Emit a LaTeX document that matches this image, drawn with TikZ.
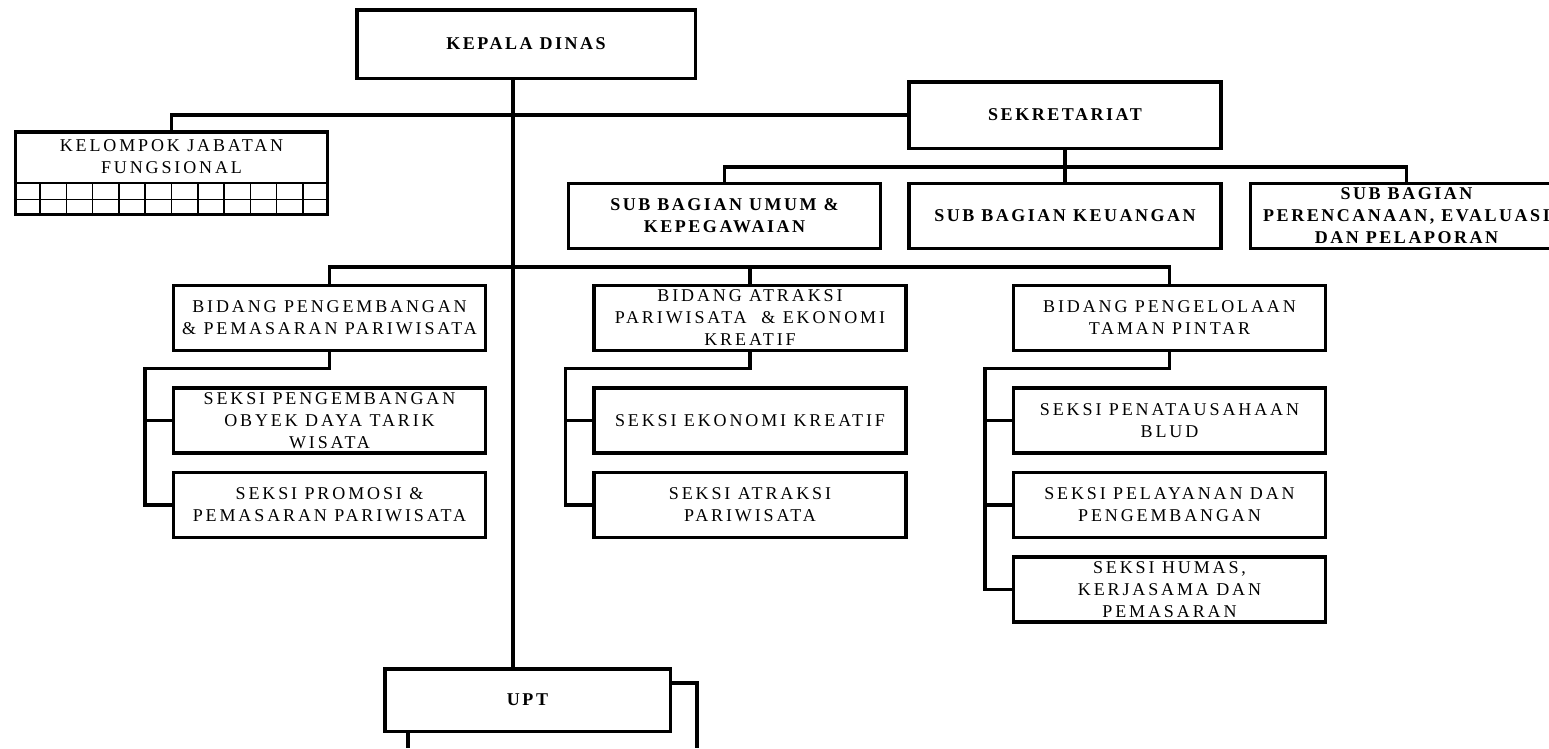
\documentclass[tikz,border=0pt]{standalone}
\usepackage{fontspec}
\setmainfont{Liberation Serif}[LetterSpace=16,BoldFeatures={LetterSpace=14}]
\usetikzlibrary{calc, positioning}

\begin{document}
\begin{tikzpicture}[x=1pt, y=-1pt, line width=3.5pt, font=\fontsize{18}{22}\selectfont,
    unit/.style={draw, minimum width=312, minimum height=65, inner sep=0pt, align=center},
    head/.style={unit, font=\fontsize{18}{22}\selectfont\bfseries},
    grid/.style={line width=1.5pt}]
    \useasboundingbox (0,0) rectangle (1549,748);
    \clip (0,0) rectangle (1549,748);

    % Pimpinan
    \node[head, minimum width=338.5, minimum height=68.5] (kadis) at (526,44) {KEPALA DINAS};
    \node[head, minimum height=66.5] (sekre) at (1065,115) {SEKRETARIAT};

    % Kelompok jabatan fungsional
    \node[unit, minimum height=82.5] (jf) at (171.5,173) {};
    \node[align=center] (jftxt) at (171.5,157) {KELOMPOK JABATAN\\FUNGSIONAL};
    \foreach \r in {16.5,33}
        \draw[grid] ([yshift=\r pt]jf.south west) -- ([yshift=\r pt]jf.south east);
    \foreach \i in {1,...,11}
        \draw[grid] ($(jf.south west)!\i/12!(jf.south east)$) -- ++(0,-33);

    % Sub bagian
    \node[head] (sbk) at (1065,216) {SUB BAGIAN KEUANGAN};
    \node[head, left=25pt of sbk] (sbu) {SUB BAGIAN UMUM \&\\KEPEGAWAIAN};
    \node[head, right=26pt of sbk] (sbp) {SUB BAGIAN\\PERENCANAAN, EVALUASI\\DAN PELAPORAN};

    % Bidang
    \node[unit] (bid1) at (329.5,318) {BIDANG PENGEMBANGAN\\\& PEMASARAN PARIWISATA};
    \node[unit, right=105pt of bid1] (bid2) {BIDANG ATRAKSI\\PARIWISATA \ \& EKONOMI\\KREATIF};
    \node[unit, right=104pt of bid2] (bid3) {BIDANG PENGELOLAAN\\TAMAN PINTAR};

    % Seksi
    \node[unit, below=34pt of bid1] (s1a) {SEKSI PENGEMBANGAN\\OBYEK DAYA TARIK\\WISATA};
    \node[unit, below=16pt of s1a] (s1b) {SEKSI PROMOSI \&\\PEMASARAN PARIWISATA};
    \node[unit, below=34pt of bid2] (s2a) {SEKSI EKONOMI KREATIF};
    \node[unit, below=16pt of s2a] (s2b) {SEKSI ATRAKSI\\PARIWISATA};
    \node[unit, below=34pt of bid3] (s3a) {SEKSI PENATAUSAHAAN\\BLUD};
    \node[unit, below=16pt of s3a] (s3b) {SEKSI PELAYANAN DAN\\PENGEMBANGAN};
    \node[unit, below=16pt of s3b] (s3c) {SEKSI HUMAS,\\KERJASAMA DAN\\PEMASARAN};

    % UPT
    \node[head, minimum width=285.5, minimum height=62.5] (upt) at (527.5,700) {UPT};

    % Garis komando
    \coordinate (spine) at (513,0);
    \draw (kadis.south -| spine) -- (upt.north -| spine);
    \draw (jf.north) |- (sekre.west);

    \coordinate (sbbus) at (0,167);
    \draw (sekre.south) -- (sekre.south |- sbbus);
    \draw (sbu.north) |- (sbbus -| sbp.north) -- (sbp.north);
    \draw (sbk.north) -- (sbk.north |- sbbus);

    \coordinate (bidbus) at (0,267);
    \draw (bid1.north) |- (bidbus -| bid3.north) -- (bid3.north);
    \draw (bid2.north) -- (bid2.north |- bidbus);

    \draw (bid1.south) -- ++(0,16) -| ([xshift=-27pt]s1b.west) -- (s1b.west);
    \draw ([xshift=-27pt]s1a.west) -- (s1a.west);
    \draw (bid2.south) -- ++(0,16) -| ([xshift=-27pt]s2b.west) -- (s2b.west);
    \draw ([xshift=-27pt]s2a.west) -- (s2a.west);
    \draw (bid3.south) -- ++(0,16) -| ([xshift=-27pt]s3c.west) -- (s3c.west);
    \draw ([xshift=-27pt]s3a.west) -- (s3a.west);
    \draw ([xshift=-27pt]s3b.west) -- (s3b.west);

    \coordinate (uptl) at (408,748);
    \coordinate (uptr) at (697,748);
    \draw (upt.south -| uptl) -- (uptl);
    \draw ([yshift=17pt]upt.east) -| (uptr);
\end{tikzpicture}
\end{document}
